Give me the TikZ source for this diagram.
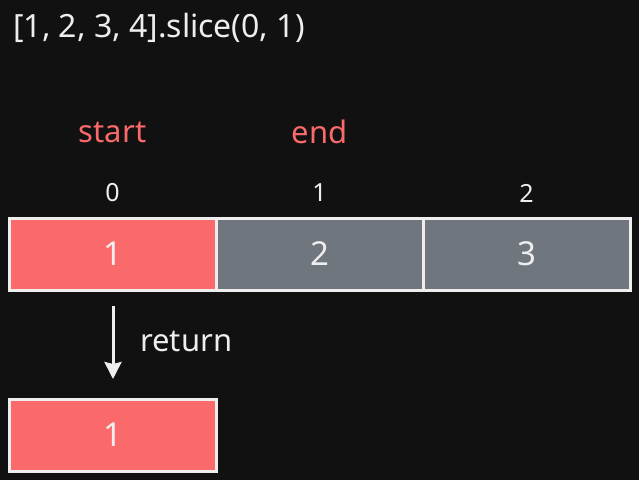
\documentclass[tikz,border=0pt]{standalone}
\usepackage{fontspec}
\setmainfont{Noto Sans}
\usetikzlibrary{arrows.meta}
\definecolor{bgdark}{HTML}{111111}
\definecolor{fgwhite}{HTML}{EEEEEE}
\definecolor{slred}{HTML}{FA6A6A}
\definecolor{slgray}{HTML}{6F767E}

\begin{document}
\begin{tikzpicture}[x=1pt, y=-1pt,
        cell/.style={draw=fgwhite, line width=3pt, minimum width=207pt, minimum height=72pt,
            inner sep=0pt, text=fgwhite, font=\fontsize{33}{36}\selectfont},
        picked/.style={cell, fill=slred},
        rest/.style={cell, fill=slgray},
        idx/.style={text=fgwhite, inner sep=0pt, font=\fontsize{25}{28}\selectfont},
        ptr/.style={text=slred, inner sep=0pt, font=\fontsize{31}{36}\selectfont}]
        \useasboundingbox (0, 0) rectangle (639, 480);
        \fill[bgdark] (0, 0) rectangle (639, 480);

        \node[anchor=west, text=fgwhite, inner sep=0pt, font=\fontsize{32}{36}\selectfont] (call) at (13, 28) {[1, 2, 3, 4].slice(0, 1)};

        \node[ptr] (start) at (112.5, 132) {start};
        \node[ptr] (end) at (319.5, 132) {end};

        \node[idx] (i0) at (112.5, 193) {0};
        \node[idx] (i1) at (319.5, 193) {1};
        \node[idx] (i2) at (526.5, 193) {2};

        \node[picked] (c0) at (112.5, 254) {1};
        \node[rest] (c1) at (319.5, 254) {2};
        \node[rest] (c2) at (526.5, 254) {3};

        \node[picked] (res) at (112.5, 435) {1};

        \coordinate (from) at (113, 306);
        \coordinate (to) at (113, 379);
        \draw[-{Stealth[length=17pt, width=17pt, inset=2pt]}, line width=3pt, fgwhite] (from) -- (to);
        \node[anchor=west, text=fgwhite, inner sep=0pt, font=\fontsize{31}{36}\selectfont] (ret) at (140, 341) {return};

    \end{tikzpicture}
\end{document}
